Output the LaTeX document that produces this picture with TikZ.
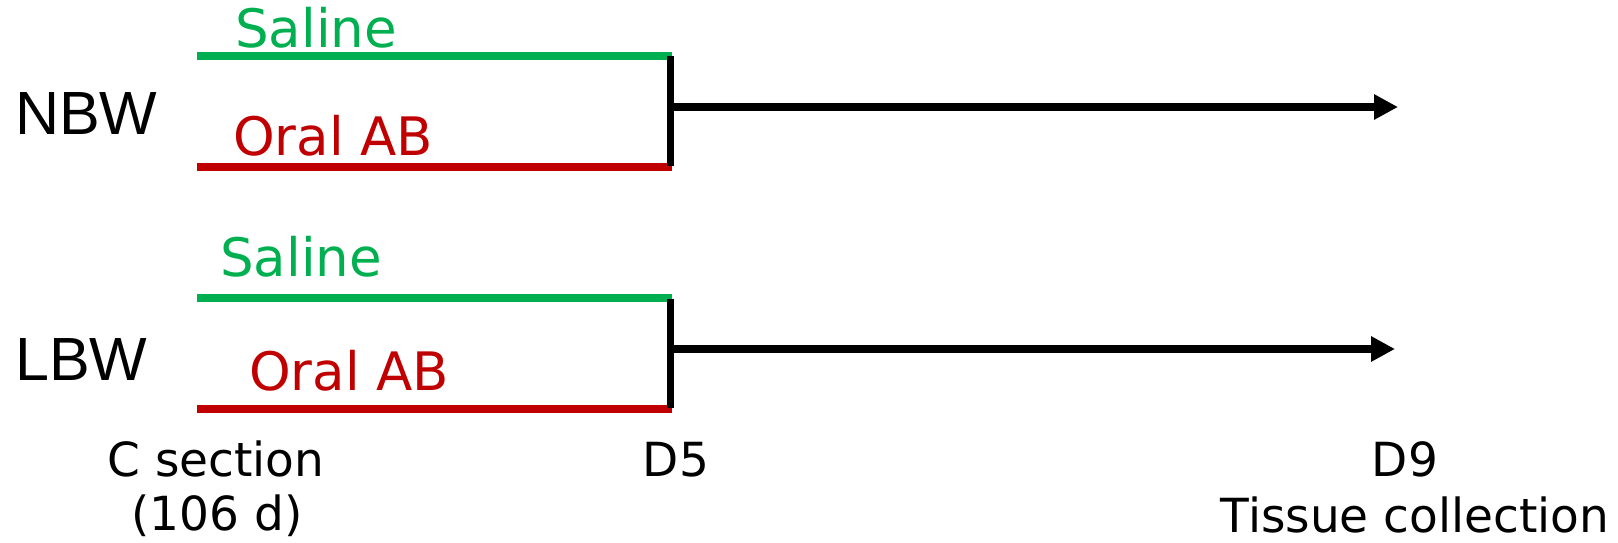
\documentclass[tikz,border=0pt]{standalone}
\usepackage{fontspec}
\setmainfont{DejaVu Sans}
\newfontfamily\groupfont{Liberation Sans}
\usetikzlibrary{arrows.meta}
\definecolor{salinegreen}{HTML}{00B050}
\definecolor{abred}{HTML}{C00000}
\tikzset{
  grouplabel/.style={inner sep=0pt, anchor=base west, font=\groupfont\fontsize{61}{66}\selectfont},
  armlabel/.style={inner sep=0pt, anchor=base west, font=\fontsize{53}{58}\selectfont},
  timelabel/.style={inner sep=0pt, anchor=base, font=\fontsize{47}{52}\selectfont},
  armline/.style={line width=8pt},
  joinbar/.style={line width=7pt, black},
  followup/.style={line width=8pt, black, -{Triangle[length=24pt,width=24pt]}}
}
\begin{document}
\begin{tikzpicture}[x=1pt,y=-1pt]
  \useasboundingbox (0,0) rectangle (1618,543);

  % ---- NBW group ----
  \node[grouplabel] (nbw) at (15,134) {NBW};
  \coordinate (n-s0) at (197,56);   \coordinate (n-s1) at (672,56);
  \coordinate (n-a0) at (197,167);  \coordinate (n-a1) at (672,167);
  \coordinate (n-top) at (670.5,56.5); \coordinate (n-bot) at (670.5,166);
  \coordinate (n-mid) at (674,107); \coordinate (n-end) at (1398,107);
  \draw[armline, salinegreen] (n-s0) -- (n-s1);
  \draw[armline, abred] (n-a0) -- (n-a1);
  \draw[joinbar] (n-top) -- (n-bot);
  \draw[followup] (n-mid) -- (n-end);
  \node[armlabel, text=salinegreen] (n-saline) at (235,48) {Saline};
  \node[armlabel, text=abred] (n-oral) at (233,155) {Oral AB};

  % ---- LBW group ----
  \node[grouplabel] (lbw) at (15,380) {LBW};
  \coordinate (l-s0) at (197,298);  \coordinate (l-s1) at (672,298);
  \coordinate (l-a0) at (197,409);  \coordinate (l-a1) at (672,409);
  \coordinate (l-top) at (670.5,298.5); \coordinate (l-bot) at (670.5,408);
  \coordinate (l-mid) at (674,349); \coordinate (l-end) at (1395,349);
  \draw[armline, salinegreen] (l-s0) -- (l-s1);
  \draw[armline, abred] (l-a0) -- (l-a1);
  \draw[joinbar] (l-top) -- (l-bot);
  \draw[followup] (l-mid) -- (l-end);
  \node[armlabel, text=salinegreen] (l-saline) at (220,276) {Saline};
  \node[armlabel, text=abred] (l-oral) at (249,390) {Oral AB};

  % ---- time axis labels ----
  \node[timelabel] (csec) at (216,476) {C section};
  \node[timelabel] (cday) at (217,530) {(106 d)};
  \node[timelabel] (d5) at (676,476) {D5};
  \node[timelabel] (d9) at (1405,476) {D9};
  \node[timelabel] (tissue) at (1415,532) {Tissue collection};
\end{tikzpicture}
\end{document}
